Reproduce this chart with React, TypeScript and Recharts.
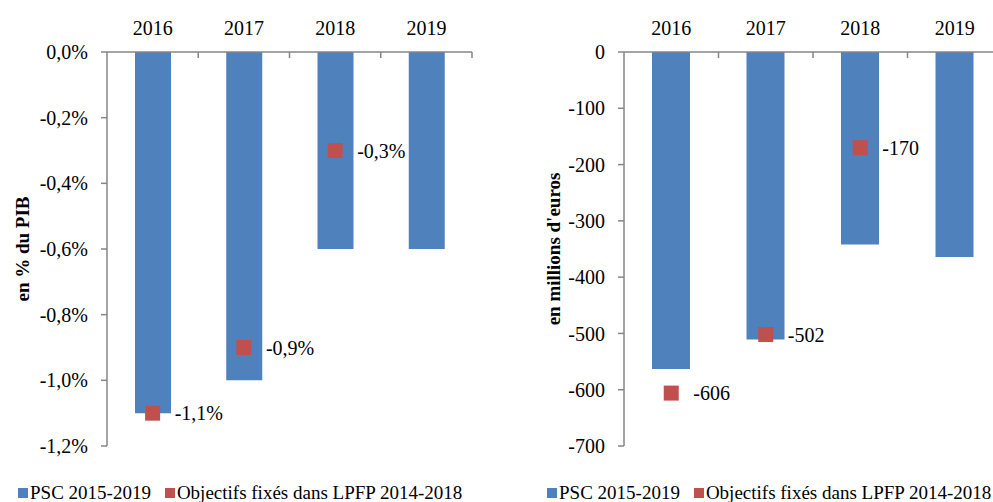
import React from "react";
import {
  ComposedChart,
  Bar,
  Line,
  XAxis,
  YAxis,
  LabelList,
} from "recharts";

const years = ["2016", "2017", "2018", "2019"];

// left panel: % du PIB
const pscPct = [-1.1, -1.0, -0.6, -0.6];
const lpfpPct = [-1.1, -0.9, -0.3, null];
const pctTicks = [0, -0.2, -0.4, -0.6, -0.8, -1.0, -1.2];

// right panel: millions d'euros
const pscEur = [-563, -511, -342, -364];
const lpfpEur = [-606, -502, -170, null];
const eurTicks = [0, -100, -200, -300, -400, -500, -600, -700];

const legendNames = ["PSC 2015-2019", "Objectifs fixés dans LPFP 2014-2018"];

const BLUE = "#4f81bd";
const RED = "#c0504d";
const GREY = "#868686";
const FONT = "'Liberation Serif', 'Times New Roman', serif";

const pctData = years.map((year, i) => ({ year, psc: pscPct[i], lpfp: lpfpPct[i] }));
const eurData = years.map((year, i) => ({ year, psc: pscEur[i], lpfp: lpfpEur[i] }));

const fmtPct = (v: number) => v.toFixed(1).replace(".", ",").replace("-0,0", "0,0") + "%";
const fmtEur = (v: number) => String(Math.round(v));

function makeTopTick(bandWidth: number) {
  return (props: any) => {
    const { x, y, payload } = props;
    return (
      <g>
        <text
          x={x}
          y={y - 17}
          textAnchor="middle"
          fontFamily={FONT}
          fontSize={20}
          fill="#000"
        >
          {payload.value}
        </text>
        <line x1={x + bandWidth / 2} y1={y} x2={x + bandWidth / 2} y2={y + 6} stroke={GREY} strokeWidth={1.5} />
      </g>
    );
  };
}

const squareDot = (props: any) => {
  const { cx, cy, value, index } = props;
  if (value == null || cx == null || cy == null) return <g key={index} />;
  return <rect key={index} x={cx - 7.5} y={cy - 7.5} width={15} height={15} fill={RED} />;
};

function markerLabel(fmt: (v: number) => string) {
  return (props: any) => {
    const { x, y, value } = props;
    if (value == null) return null;
    return (
      <text
        x={x + 22}
        y={y}
        dominantBaseline="central"
        fontFamily={FONT}
        fontSize={20}
        fill="#000"
      >
        {fmt(value)}
      </text>
    );
  };
}

function axisTitle(text: string, cx: number) {
  return (props: any) => {
    const { viewBox } = props;
    const cy = viewBox.y + viewBox.height / 2;
    return (
      <text
        x={cx}
        y={cy}
        transform={`rotate(-90 ${cx} ${cy})`}
        textAnchor="middle"
        dominantBaseline="central"
        fontFamily={FONT}
        fontSize={19}
        fontWeight="bold"
        fill="#000"
      >
        {text}
      </text>
    );
  };
}

interface PanelProps {
  data: any[];
  ticks: number[];
  fmt: (v: number) => string;
  title: string;
  titleX: number;
  width: number;
  yWidth: number;
  right: number;
  barSize: number;
}

function Panel({ data, ticks, fmt, title, titleX, width, yWidth, right, barSize }: PanelProps) {
  const bandWidth = (width - yWidth - right) / data.length;
  return (
    <ComposedChart
      width={width}
      height={471}
      data={data}
      margin={{ top: 0, right, bottom: 25, left: 0 }}
    >
      <XAxis
        dataKey="year"
        orientation="top"
        height={52}
        axisLine={{ stroke: GREY, strokeWidth: 1.5 }}
        tickLine={false}
        tickSize={0}
        tickMargin={0}
        tick={makeTopTick(bandWidth)}
        interval={0}
      />
      <YAxis
        width={yWidth}
        domain={[ticks[ticks.length - 1], 0]}
        ticks={ticks}
        tickFormatter={fmt}
        axisLine={{ stroke: GREY, strokeWidth: 1.5 }}
        tickLine={{ stroke: GREY, strokeWidth: 1.5 }}
        tickSize={6}
        tickMargin={13}
        tick={{ fontFamily: FONT, fontSize: 20, fill: "#000" }}
        label={axisTitle(title, titleX)}
      />
      <Bar dataKey="psc" fill={BLUE} barSize={barSize} isAnimationActive={false} />
      <Line
        dataKey="lpfp"
        stroke="none"
        dot={squareDot}
        activeDot={false}
        isAnimationActive={false}
        connectNulls={false}
      >
        <LabelList dataKey="lpfp" content={markerLabel(fmt)} />
      </Line>
    </ComposedChart>
  );
}

function LegendRow({ left }: { left: number }) {
  const item = (color: string, text: string) => (
    <span style={{ display: "inline-flex", alignItems: "center", marginRight: 14 }}>
      <span style={{ width: 10, height: 10, background: color, display: "inline-block", marginRight: 2 }} />
      <span>{text}</span>
    </span>
  );
  return (
    <div
      style={{
        position: "absolute",
        left,
        top: 481,
        fontFamily: FONT,
        fontSize: 19,
        lineHeight: "22px",
        whiteSpace: "nowrap",
        color: "#000",
      }}
    >
      {item(BLUE, legendNames[0])}
      {item(RED, legendNames[1])}
    </div>
  );
}

export default function App() {
  return (
    <div
      style={{
        position: "absolute",
        left: 0,
        top: 0,
        width: 993,
        height: 502,
        overflow: "hidden",
        background: "#fff",
      }}
    >
      <div style={{ position: "absolute", left: 0, top: 0 }}>
        <Panel
          data={pctData}
          ticks={pctTicks}
          fmt={fmtPct}
          title="en % du PIB"
          titleX={22}
          width={490}
          yWidth={107}
          right={18}
          barSize={36}
        />
      </div>
      <div style={{ position: "absolute", left: 500, top: 0 }}>
        <Panel
          data={eurData}
          ticks={eurTicks}
          fmt={fmtEur}
          title="en millions d'euros"
          titleX={53}
          width={510}
          yWidth={124}
          right={8}
          barSize={38}
        />
      </div>
      <LegendRow left={18} />
      <LegendRow left={547} />
    </div>
  );
}
